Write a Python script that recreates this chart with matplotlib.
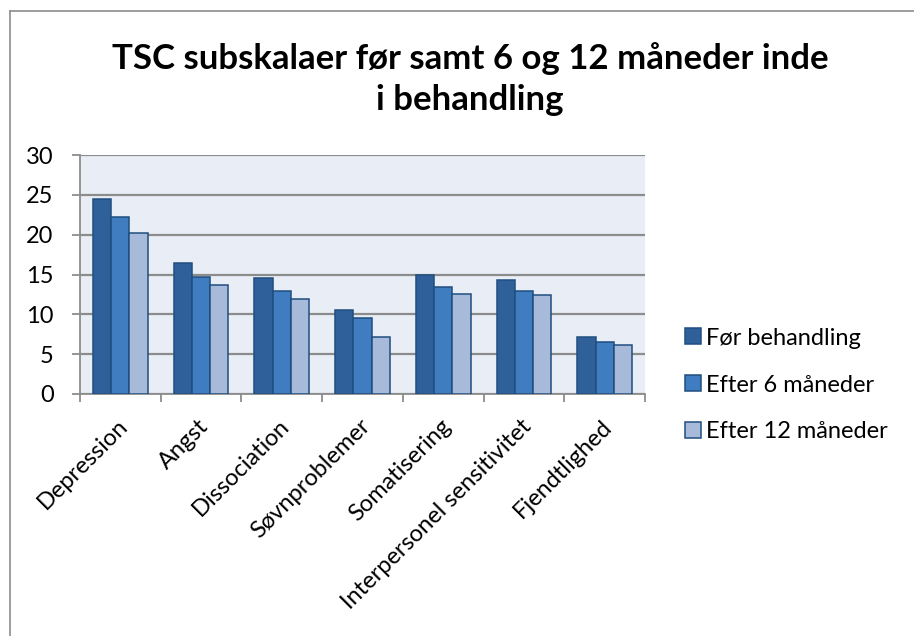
import numpy as np
import matplotlib
matplotlib.use("Agg")
import matplotlib.pyplot as plt
from matplotlib.lines import Line2D

plt.rcParams['font.family'] = ['Lato', 'DejaVu Sans']

# data
categories = ['Depression', 'Angst', 'Dissociation', 'Søvnproblemer',
              'Somatisering', 'Interpersonel sensitivitet', 'Fjendtlighed']
series_names = ['Før behandling', 'Efter 6 måneder', 'Efter 12 måneder']
foer = [24.5, 16.4, 14.5, 10.5, 14.9, 14.3, 7.2]
efter6 = [22.2, 14.7, 12.9, 9.5, 13.4, 12.9, 6.5]
efter12 = [20.2, 13.7, 11.9, 7.1, 12.5, 12.4, 6.1]
yticks = [0, 5, 10, 15, 20, 25, 30]
title = 'TSC subskalaer før samt 6 og 12 måneder inde\ni behandling'

colors = ['#30609A', '#3F7CC0', '#A8BAD9']
edge = '#1F4E80'
grid_col = '#8C8C8C'
fs = 17

fig = plt.figure(figsize=(9.14, 6.36), dpi=100)
ax = fig.add_axes([80 / 914, 1 - 394 / 636, 565 / 914, 239 / 636])
ax.set_facecolor('#E9EDF5')

x = np.arange(len(categories))
w = 0.226
for i, (vals, name) in enumerate(zip([foer, efter6, efter12], series_names)):
    ax.bar(x + (i - 1) * w, vals, width=w, color=colors[i], edgecolor=edge,
           linewidth=1.1, label=name, zorder=3)

ax.set_xlim(-0.5, len(categories) - 0.5)
ax.set_ylim(0, 30)
ax.set_yticks(yticks)
ax.yaxis.grid(True, color=grid_col, linewidth=1.6, zorder=1)
ax.set_axisbelow(True)

# category boundaries as ticks, names centred under each group
ax.set_xticks(np.arange(len(categories) + 1) - 0.5)
ax.set_xticklabels([])
ax.set_xticks(x - 0.04, minor=True)
ax.set_xticklabels(categories, minor=True, rotation=45, ha='right',
                   rotation_mode='anchor', fontsize=fs)
ax.tick_params(axis='x', which='minor', length=0, pad=15.5)
ax.tick_params(axis='x', which='major', length=6, width=1.3, color=grid_col,
               direction='out')
ax.tick_params(axis='y', length=6, width=1.3, color=grid_col, labelsize=fs, pad=13)

for s in ['top', 'right']:
    ax.spines[s].set_visible(False)
for s in ['left', 'bottom']:
    ax.spines[s].set_color(grid_col)
    ax.spines[s].set_linewidth(1.3)

fig.text(470 / 914, 1 - 79 / 636, title, ha='center', va='center',
         fontsize=25, fontweight='bold', linespacing=1.38)

fig.legend(loc='center left', bbox_to_anchor=(664 / 914, 1 - 385 / 636),
           frameon=False, fontsize=fs, handlelength=0.65, handleheight=0.65,
           handletextpad=0.25, labelspacing=1.1)

# outer chart frame (top and left edges visible in the reference)
fig.add_artist(Line2D([10 / 914, 10 / 914], [0, 1 - 11 / 636], color='#8C8C8C', lw=1.2))
fig.add_artist(Line2D([10 / 914, 1], [1 - 11 / 636, 1 - 11 / 636], color='#8C8C8C', lw=1.2))

fig.savefig('out.png', dpi=100)
